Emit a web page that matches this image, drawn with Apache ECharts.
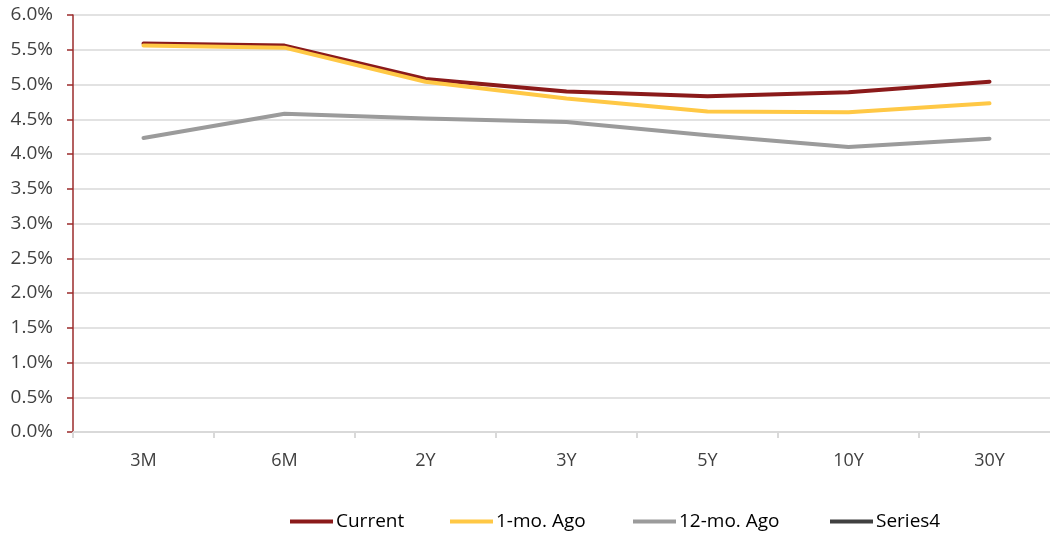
<!DOCTYPE html>
<html>
<head>
<meta charset="utf-8">
<script src="https://cdn.jsdelivr.net/npm/echarts@6/dist/echarts.min.js"></script>
<style>
  html, body { margin: 0; padding: 0; background: #fff; overflow: hidden; }
  #chart { width: 1060px; height: 535px; }
</style>
</head>
<body>
<div id="chart"></div>
<script>
// Treasury yield curve: maturities and yields (%)
const maturities = ['3M', '6M', '2Y', '3Y', '5Y', '10Y', '30Y'];
const current    = [5.59, 5.56, 5.08, 4.90, 4.83, 4.89, 5.04];
const oneMoAgo   = [5.56, 5.53, 5.04, 4.80, 4.61, 4.60, 4.73];
const twelveMoAgo = [4.23, 4.58, 4.51, 4.46, 4.27, 4.10, 4.22];
const series4    = [];
const seriesNames = ['Current', '1-mo. Ago', '12-mo. Ago', 'Series4'];
const yTicks = { min: 0, max: 6, step: 0.5 };

const FONT = 'Open Sans';
const chart = echarts.init(document.getElementById('chart'));

function lineSeries(name, data, color) {
  return {
    name: name,
    type: 'line',
    data: data,
    symbol: 'none',
    lineStyle: { width: 4, color: color, cap: 'round', join: 'round' },
    itemStyle: { color: color },
    emphasis: { disabled: true }
  };
}

// one legend block per entry so each sits at its own spot along the bottom
const legendLeft = [290, 450, 633, 830];
const legends = seriesNames.map((name, i) => ({
  top: 512,
  left: legendLeft[i],
  padding: 0,
  itemWidth: 43,
  itemHeight: 4,
  itemGap: 0,
  icon: 'rect',
  textStyle: { fontFamily: FONT, fontSize: 19, color: '#000', padding: [0, 0, 0, -2] },
  data: [name]
}));

chart.setOption({
  animation: false,
  grid: { left: 73, right: 0, top: 15, bottom: 103 },
  legend: legends,
  xAxis: {
    type: 'category',
    data: maturities,
    boundaryGap: true,
    axisLine: { lineStyle: { color: '#d9d9d9', width: 2 } },
    axisTick: { show: true, length: 6, lineStyle: { color: '#d9d9d9', width: 2 } },
    axisLabel: { fontFamily: FONT, fontSize: 18, color: '#404040', margin: 20 },
    splitLine: { show: false }
  },
  yAxis: {
    type: 'value',
    min: yTicks.min,
    max: yTicks.max,
    interval: yTicks.step,
    axisLine: { show: true, lineStyle: { color: '#9b2b2b', width: 1.5 } },
    axisTick: { show: true, inside: false, length: 6, lineStyle: { color: '#9b2b2b', width: 1.5 } },
    axisLabel: {
      fontFamily: FONT, fontSize: 19, color: '#404040', margin: 20,
      formatter: v => v.toFixed(1) + '%'
    },
    splitLine: { lineStyle: { color: '#d9d9d9', width: 1.5 } }
  },
  series: [
    lineSeries(seriesNames[0], current, '#8b1a1a'),
    lineSeries(seriesNames[1], oneMoAgo, '#ffc845'),
    lineSeries(seriesNames[2], twelveMoAgo, '#9b9b9b'),
    lineSeries(seriesNames[3], series4, '#404040')
  ]
});
</script>
</body>
</html>
